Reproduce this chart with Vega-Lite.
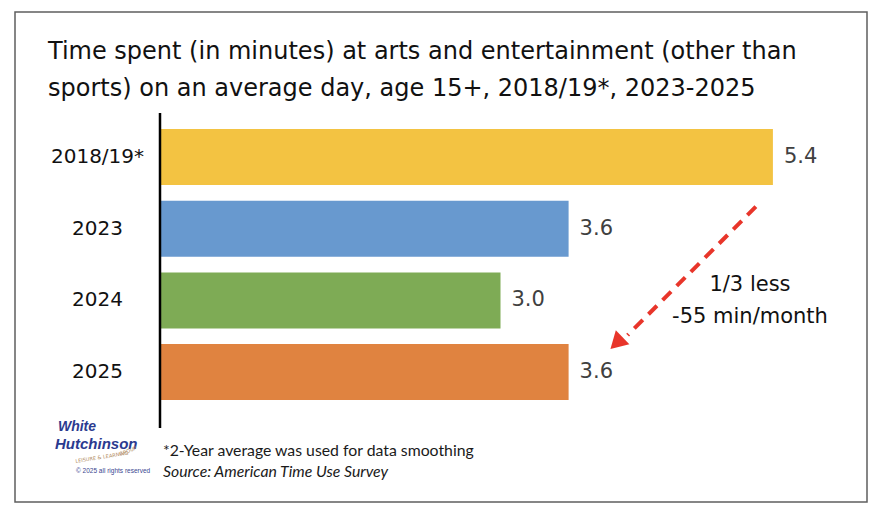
{
  "$schema": "https://vega.github.io/schema/vega-lite/v6.json",
  "width": 852,
  "height": 490,
  "padding": {"left": 15, "top": 12, "right": 13, "bottom": 10},
  "autosize": {"type": "pad"},
  "config": {
    "view": {"stroke": "#5f5f5f", "strokeWidth": 1.5},
    "font": "DejaVu Sans"
  },
  "title": {
    "text": ["Time spent (in minutes) at arts and entertainment (other than", "sports) on an average day, age 15+, 2018/19*, 2023-2025"],
    "anchor": "start",
    "frame": "group",
    "dx": 33,
    "offset": -108,
    "fontSize": 24,
    "fontWeight": "normal",
    "font": "DejaVu Sans",
    "color": "#111111",
    "lineHeight": 37,
    "baseline": "alphabetic"
  },
  "datasets": {
    "bars": [
      {"year": "2018/19*", "minutes": 5.4},
      {"year": "2023", "minutes": 3.6},
      {"year": "2024", "minutes": 3.0},
      {"year": "2025", "minutes": 3.6}
    ],
    "arrow": [
      {"from": "2023", "to": "2025", "x_start": 5.25, "x_end": 4.12, "x_head": 4.04}
    ],
    "note": [
      {"line": "*2-Year average was used for data smoothing", "source": "Source: American Time  Use Survey", "year": "2025", "x": 0.026}
    ],
    "logo": [
      {"w1": "White", "w2": "Hutchinson", "w3": "LEISURE & LEARNING", "w4": "GROUP", "w5": "© 2025 all rights reserved", "year": "2025"}
    ]
  },
  "resolve": {"scale": {"color": "independent"}},
  "layer": [
    {
      "data": {"name": "bars"},
      "mark": {"type": "bar"},
      "encoding": {
        "x": {"field": "minutes", "type": "quantitative", "scale": {"domain": [-1.2775, 6.229], "nice": false, "zero": false}, "axis": null},
        "y": {
          "field": "year", "type": "nominal",
          "sort": ["2018/19*", "2023", "2024", "2025"],
          "scale": {"range": [117, 388.1], "paddingInner": 0.219, "paddingOuter": 0},
          "axis": {"title": null, "orient": "left", "offset": -145, "domain": false, "ticks": false, "tickSize": 0, "labelPadding": 63, "labelAlign": "center", "labelFontSize": 20, "labelColor": "#111111", "labelFont": "DejaVu Sans"}
        },
        "color": {
          "field": "year", "type": "nominal",
          "scale": {"domain": ["2018/19*", "2023", "2024", "2025"], "range": ["#f3c342", "#6899cf", "#7eab55", "#e08340"]},
          "legend": null
        }
      }
    },
    {
      "data": {"name": "bars"},
      "mark": {"type": "text", "align": "left", "baseline": "middle", "dx": 11, "fontSize": 21, "color": "#404040"},
      "encoding": {
        "x": {"field": "minutes", "type": "quantitative"},
        "y": {"field": "year", "type": "nominal", "sort": ["2018/19*", "2023", "2024", "2025"]},
        "text": {"field": "minutes", "type": "quantitative", "format": ".1f"}
      }
    },
    {
      "data": {"name": "arrow"},
      "mark": {"type": "rule", "color": "#000000", "strokeWidth": 2.5, "yOffset": -44, "y2Offset": 56},
      "encoding": {
        "x": {"datum": 0, "type": "quantitative"},
        "y": {"datum": "2018/19*", "type": "nominal"},
        "y2": {"datum": "2025"}
      }
    },
    {
      "data": {"name": "arrow"},
      "mark": {"type": "rule", "color": "#e8352a", "strokeWidth": 4, "strokeDash": [12, 8], "yOffset": -22, "y2Offset": -37},
      "encoding": {
        "x": {"field": "x_start", "type": "quantitative"},
        "x2": {"field": "x_end"},
        "y": {"field": "from", "type": "nominal"},
        "y2": {"field": "to"}
      }
    },
    {
      "data": {"name": "arrow"},
      "mark": {"type": "point", "shape": "triangle", "filled": true, "color": "#e8352a", "opacity": 1, "size": 380, "angle": 226, "yOffset": -31},
      "encoding": {
        "x": {"field": "x_head", "type": "quantitative"},
        "y": {"field": "to", "type": "nominal"}
      }
    },
    {
      "data": {"name": "arrow"},
      "mark": {"type": "text", "text": ["1/3 less", "-55 min/month"], "align": "center", "baseline": "alphabetic", "fontSize": 21, "lineHeight": 32, "dy": -9, "color": "#111111"},
      "encoding": {
        "x": {"datum": 5.198, "type": "quantitative"},
        "y": {"datum": "2024", "type": "nominal"}
      }
    },
    {
      "data": {"name": "note"},
      "mark": {"type": "text", "align": "left", "baseline": "alphabetic", "fontSize": 15.8, "font": "Lato", "dy": 84, "color": "#1a1a1a"},
      "encoding": {
        "x": {"field": "x", "type": "quantitative"},
        "y": {"field": "year", "type": "nominal"},
        "text": {"field": "line"}
      }
    },
    {
      "data": {"name": "note"},
      "mark": {"type": "text", "align": "left", "baseline": "alphabetic", "fontSize": 15.8, "font": "Lato", "fontStyle": "italic", "fontWeight": "normal", "dy": 105, "color": "#1a1a1a"},
      "encoding": {
        "x": {"field": "x", "type": "quantitative"},
        "y": {"field": "year", "type": "nominal"},
        "text": {"field": "source"}
      }
    },
    {
      "data": {"name": "logo"},
      "mark": {"type": "text", "align": "left", "baseline": "alphabetic", "fontSize": 14, "font": "Liberation Sans", "fontWeight": "bold", "fontStyle": "italic", "dy": 59, "letterSpacing": -1, "color": "#2b3a8f"},
      "encoding": {
        "x": {"datum": -0.899, "type": "quantitative"},
        "y": {"field": "year", "type": "nominal"},
        "text": {"field": "w1"}
      }
    },
    {
      "data": {"name": "logo"},
      "mark": {"type": "text", "align": "left", "baseline": "alphabetic", "fontSize": 15, "font": "Liberation Sans", "fontWeight": "bold", "fontStyle": "italic", "dy": 77, "letterSpacing": -1, "color": "#2b3a8f"},
      "encoding": {
        "x": {"datum": -0.925, "type": "quantitative"},
        "y": {"field": "year", "type": "nominal"},
        "text": {"field": "w2"}
      }
    },
    {
      "data": {"name": "logo"},
      "mark": {"type": "text", "align": "left", "baseline": "alphabetic", "fontSize": 5, "font": "DejaVu Sans", "dy": 92, "angle": -9, "letterSpacing": 0.8, "color": "#b08a5e"},
      "encoding": {
        "x": {"datum": -0.87, "type": "quantitative"},
        "y": {"field": "year", "type": "nominal"},
        "text": {"field": "w3"}
      }
    },
    {
      "data": {"name": "logo"},
      "mark": {"type": "text", "align": "left", "baseline": "alphabetic", "fontSize": 5, "font": "DejaVu Sans", "dy": 89, "angle": -20, "letterSpacing": 0.8, "color": "#b08a5e"},
      "encoding": {
        "x": {"datum": -0.62, "type": "quantitative"},
        "y": {"field": "year", "type": "nominal"},
        "text": {"field": "w4"}
      }
    },
    {
      "data": {"name": "logo"},
      "mark": {"type": "text", "align": "left", "baseline": "alphabetic", "fontSize": 6.5, "font": "Liberation Sans", "dy": 101, "color": "#3a4790"},
      "encoding": {
        "x": {"datum": -0.74, "type": "quantitative"},
        "y": {"field": "year", "type": "nominal"},
        "text": {"field": "w5"}
      }
    }
  ]
}
